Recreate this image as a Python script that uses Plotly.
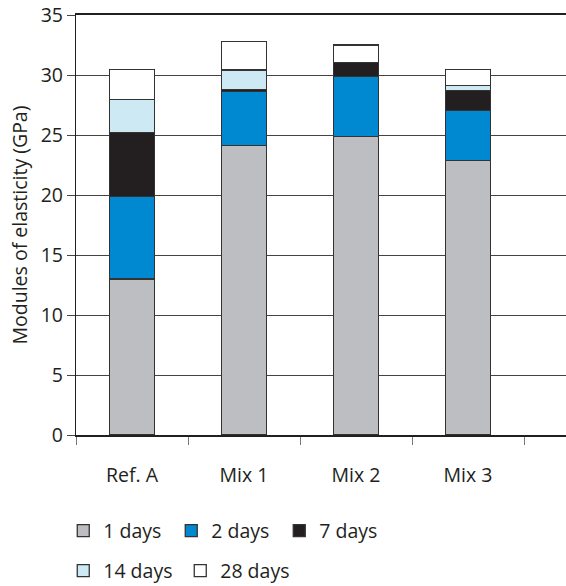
import plotly.graph_objects as go

categories = ["Ref. A", "Mix 1", "Mix 2", "Mix 3"]
series_names = ["1 days", "2 days", "7 days", "14 days", "28 days"]
d1 = [13.0, 24.1, 24.85, 22.9]
d2 = [6.85, 4.55, 5.05, 4.15]
d7 = [5.35, 0.12, 1.15, 1.65]
d14 = [2.75, 1.65, 0.0, 0.45]
d28 = [2.5, 2.4, 1.45, 1.3]
series_values = [d1, d2, d7, d14, d28]
colors = ["#bdbec2", "#0088d1", "#231f20", "#cce9f4", "#ffffff"]
legend_ids = ["legend", "legend", "legend", "legend2", "legend2"]
y_ticks = [0, 5, 10, 15, 20, 25, 30, 35]

FONT = "Open Sans"
TXT = "#231f20"
FS = 19.5

fig = go.Figure()
for name, vals, col, lg in zip(series_names, series_values, colors, legend_ids):
    fig.add_trace(go.Bar(
        x=categories, y=vals, name=name, legend=lg,
        marker=dict(color=col, line=dict(color="#333333", width=1.3)),
        width=0.4,
    ))

fig.update_layout(
    barmode="stack",
    width=566, height=586,
    margin=dict(l=76, r=0, t=15, b=151, autoexpand=False),
    paper_bgcolor="white", plot_bgcolor="white",
    font=dict(family=FONT, size=FS, color=TXT),
    xaxis=dict(
        type="category", range=[-0.5, 3.875],
        tickson="boundaries", ticks="outside", ticklen=8, tickcolor="#777777",
        showline=True, linecolor="#231f20", linewidth=1.5, mirror=True,
        showgrid=False, ticklabelstandoff=22,
        tickfont=dict(size=FS, color=TXT),
    ),
    yaxis=dict(
        range=[0, 35], tickvals=y_ticks,
        ticks="outside", ticklen=8, tickcolor="#444444",
        showline=True, linecolor="#231f20", linewidth=1.2,
        showgrid=True, gridcolor="#444444", gridwidth=1,
        zeroline=False, ticklabeloverflow="allow",
        title=dict(text="Modules of elasticity (GPa)", font=dict(size=FS, color=TXT), standoff=7),
        tickfont=dict(size=FS, color=TXT),
    ),
    legend=dict(
        orientation="h", x=-0.026, xanchor="left", y=-0.2286, yanchor="middle",
        entrywidth=63, entrywidthmode="pixels", traceorder="normal",
        font=dict(size=FS, color=TXT), bgcolor="rgba(0,0,0,0)",
    ),
    legend2=dict(
        orientation="h", x=-0.026, xanchor="left", y=-0.3238, yanchor="middle",
        entrywidth=72, entrywidthmode="pixels", traceorder="normal",
        font=dict(size=FS, color=TXT), bgcolor="rgba(0,0,0,0)",
    ),
)

fig.write_html("out.html", config={"displayModeBar": False},
               post_script="document.body.style.margin='0';")
